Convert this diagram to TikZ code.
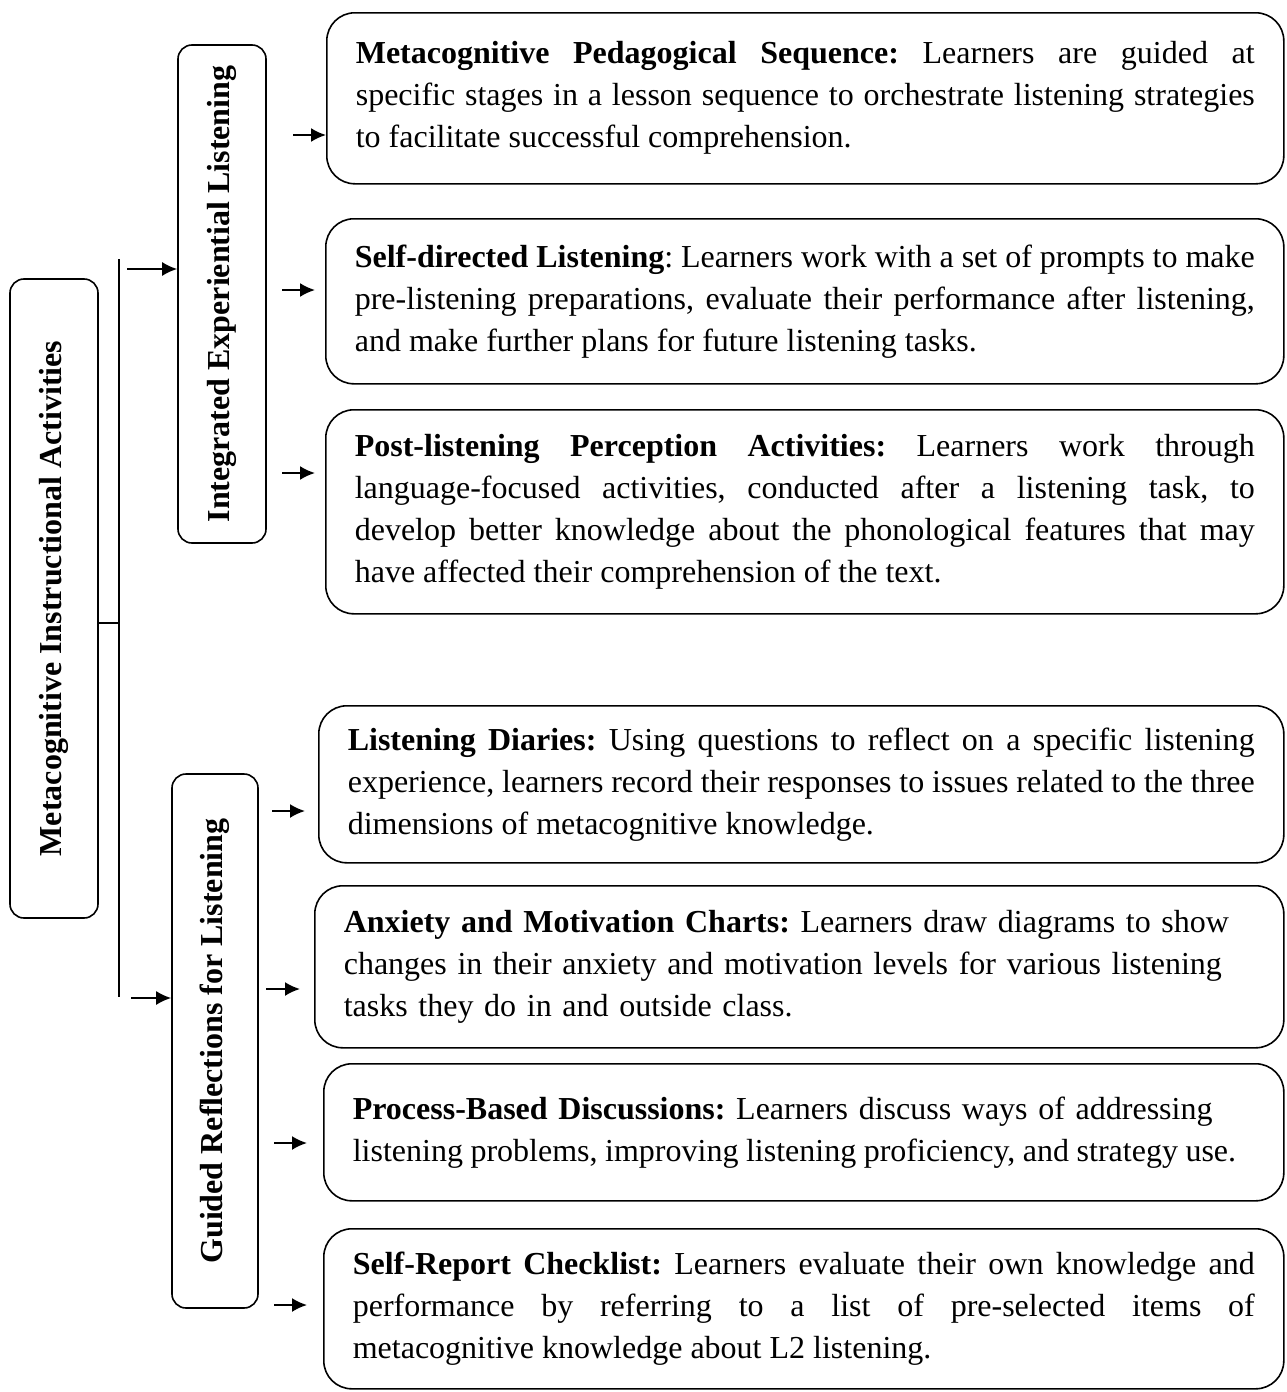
\documentclass[tikz,border=0pt]{standalone}
\usepackage{fontspec}
\setmainfont{Liberation Serif}
\usetikzlibrary{arrows.meta,positioning}
\frenchspacing

\begin{document}
\begin{tikzpicture}[x=1pt,y=-1pt,
	font=\fontsize{32}{42}\selectfont,
	desc/.style={draw,line width=1.6pt,rounded corners=28pt,inner xsep=29pt,inner ysep=0pt,anchor=north west,align=justify},
	descl/.style={desc,align=left},
	side/.style={draw,line width=1.6pt,rounded corners=14pt,rotate=90,font=\fontsize{32}{42}\selectfont\bfseries,inner sep=0pt},
	arr/.style={-{Latex[length=15pt,width=14pt]},line width=2pt}]
		
		\useasboundingbox (0,0) rectangle (1287,1392);
		
		% left column
		\node[side,minimum width=639pt,minimum height=88pt] (mia) at (54,598.5) {Metacognitive Instructional Activities};
		
		\node[side,minimum width=498pt,minimum height=88pt] (iel) at (222,294) {Integrated Experiential Listening};
		
		\node[side,minimum width=534pt,minimum height=86pt] (grl) at (215,1041) {Guided Reflections for Listening};
		
		% right column
		\node[desc,text width=899pt,minimum height=171pt] (mps) at (326,12) {\textbf{Metacognitive Pedagogical Sequence:} Learners are guided at\linebreak specific stages in a lesson sequence to orchestrate listening strategies\linebreak to facilitate successful comprehension.};
		
		\node[desc,text width=900pt,minimum height=165pt] (sdl) at (325,218) {\textbf{Self-directed Listening}: Learners work with a set of prompts to make\linebreak pre-listening preparations, evaluate their performance after listening,\linebreak and make further plans for future listening tasks.};
		
		\node[desc,text width=900pt,minimum height=204pt] (plp) at (325,409) {\textbf{Post-listening Perception Activities:} Learners work through\linebreak language-focused activities, conducted after a listening task, to\linebreak develop better knowledge about the phonological features that may\linebreak have affected their comprehension of the text.};
		
		\node[desc,text width=907pt,minimum height=157pt] (ld) at (318,705) {\textbf{Listening Diaries:} Using questions to reflect on a specific listening\linebreak experience, learners record their responses to issues related to the three\linebreak dimensions of metacognitive knowledge.};
		
		\node[descl,text width=911pt,minimum height=162pt] (amc) at (314,885) {\textbf{Anxiety and Motivation Charts:} Learners draw diagrams to show\\ changes in their anxiety and motivation levels for various listening\\ tasks they do in and outside class.};
		
		\node[descl,text width=902pt,minimum height=137pt] (pbd) at (323,1063) {\textbf{Process-Based Discussions:} Learners discuss ways of addressing\\ \mbox{\spaceskip=0.235em listening problems, improving listening proficiency, and strategy use.}};
		
		\node[desc,text width=902pt,minimum height=160pt] (src) at (323,1228) {\textbf{Self-Report Checklist:} Learners evaluate their own knowledge and\linebreak performance by referring to a list of pre-selected items of\linebreak metacognitive knowledge about L2 listening.};
		
		% spine
		\coordinate (top) at (119,259);
		\coordinate (bot) at (119,997);
		\coordinate (jn) at (119,623);
		\draw[line width=1.2pt] (top) -- (bot);
		\draw[line width=1.2pt] (mia.south |- jn) -- (jn);
		
		\coordinate (ta) at (127,269);
		\coordinate (tb) at (131,998);
		\draw[arr] (ta) -- (ta -| iel.north);
		\draw[arr] (tb) -- (tb -| grl.north);
		
		% arrows to the descriptions
		\coordinate (t1) at (293,135);
		\coordinate (t2) at (282,290);
		\coordinate (t3) at (282,473);
		\coordinate (t4) at (272,811);
		\coordinate (t5) at (266,989);
		\coordinate (t6) at (274,1143);
		\coordinate (t7) at (274,1305);
		\draw[arr] (t1) -- (t1 -| mps.west);
		\draw[arr,shorten >=10pt] (t2) -- (t2 -| sdl.west);
		\draw[arr,shorten >=10pt] (t3) -- (t3 -| plp.west);
		\draw[arr,shorten >=13pt] (t4) -- (t4 -| ld.west);
		\draw[arr,shorten >=14pt] (t5) -- (t5 -| amc.west);
		\draw[arr,shorten >=16pt] (t6) -- (t6 -| pbd.west);
		\draw[arr,shorten >=16pt] (t7) -- (t7 -| src.west);
		
	\end{tikzpicture}
\end{document}
